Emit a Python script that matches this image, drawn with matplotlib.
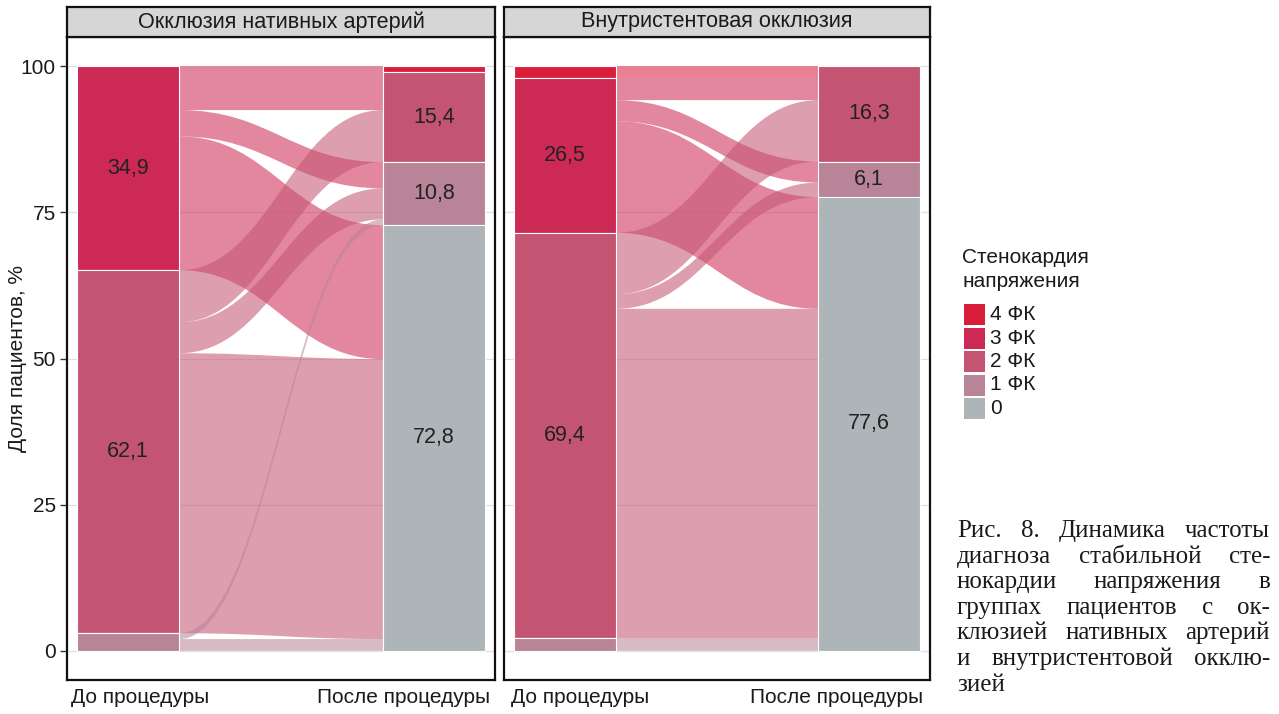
import matplotlib
matplotlib.use("Agg")
import matplotlib.pyplot as plt
from matplotlib.path import Path
from matplotlib.patches import PathPatch, Rectangle

plt.rcParams['font.family'] = ['Liberation Sans', 'DejaVu Sans']

# ---------------- data ----------------
panels = ["Окклюзия нативных артерий", "Внутристентовая окклюзия"]
stages = ["До процедуры", "После процедуры"]
levels = ["4 ФК", "3 ФК", "2 ФК", "1 ФК", "0"]
level_colors = ["#d81e3a", "#cd2955", "#c45572", "#b88498", "#adb5b8"]

# flows: rows = class before procedure, columns = class after procedure (%)
flows_native = [
    [0.0, 0.0, 0.0, 0.0, 0.0],
    [1.0, 0.0, 6.5, 4.5, 22.9],
    [0.0, 0.0, 8.9, 5.3, 47.9],
    [0.0, 0.0, 0.0, 1.0, 2.0],
    [0.0, 0.0, 0.0, 0.0, 0.0],
]
flows_instent = [
    [0.0, 0.0, 2.0, 0.0, 0.0],
    [0.0, 0.0, 3.8, 3.6, 19.1],
    [0.0, 0.0, 10.5, 2.5, 56.4],
    [0.0, 0.0, 0.0, 0.0, 2.1],
    [0.0, 0.0, 0.0, 0.0, 0.0],
]
panel_flows = [flows_native, flows_instent]

legend_title = "Стенокардия\nнапряжения"
y_label = "Доля пациентов, %"
y_ticks = [0, 25, 50, 75, 100]
caption_lines = [
    "Рис. 8. Динамика частоты",
    "диагноза стабильной сте-",
    "нокардии напряжения в",
    "группах пациентов с ок-",
    "клюзией нативных артерий",
    "и внутристентовой окклю-",
    "зией",
]

# ---------------- layout helpers ----------------
W, H = 1279, 714
fig = plt.figure(figsize=(W / 100, H / 100), dpi=100)


def fx(px):
    return px / W


def fy(py):
    return 1 - py / H


STRAT_W = 1 / 3
FLOW_ALPHA = 0.56
FS = 15


def flow_patch(x0, a_top, a_bot, x1, b_top, b_bot, color):
    k = 0.45 * (x1 - x0)
    verts = [
        (x0, a_top),
        (x0 + k, a_top), (x1 - k, b_top), (x1, b_top),
        (x1, b_bot),
        (x1 - k, b_bot), (x0 + k, a_bot), (x0, a_bot),
        (x0, a_top),
    ]
    codes = [Path.MOVETO,
             Path.CURVE4, Path.CURVE4, Path.CURVE4,
             Path.LINETO,
             Path.CURVE4, Path.CURVE4, Path.CURVE4,
             Path.CLOSEPOLY]
    return PathPatch(Path(verts, codes), facecolor=color, edgecolor='none',
                     alpha=FLOW_ALPHA, zorder=2)


panel_px = [(67, 495), (504, 930)]
xlabel_px = [(140, 404), (580, 837)]
top_px, bot_px = 37, 680

for p, (x_left, x_right) in enumerate(panel_px):
    ax = fig.add_axes([fx(x_left), fy(bot_px), (x_right - x_left) / W, (bot_px - top_px) / H])
    ax.set_xlim(0.8, 2.2)
    ax.set_ylim(-5, 105)
    mat = panel_flows[p]
    n = len(levels)
    before = [sum(mat[i]) for i in range(n)]
    after = [sum(mat[i][j] for i in range(n)) for j in range(n)]

    # grid
    for t in y_ticks:
        ax.axhline(t, color='#e0e0e0', lw=0.9, zorder=0)

    def tops(vals):
        res, cur = [], 100.0
        for v in vals:
            res.append(cur)
            cur -= v
        return res
    btop = tops(before)
    atop = tops(after)

    # flows
    bcur = list(btop)
    acur = list(atop)
    segs = {}
    for i in range(n):
        for j in range(n):
            v = mat[i][j]
            if v > 0:
                segs[(i, j)] = [bcur[i], bcur[i] - v]
                bcur[i] -= v
    for j in range(n):
        for i in range(n):
            v = mat[i][j]
            if v > 0:
                segs[(i, j)] += [acur[j], acur[j] - v]
                acur[j] -= v
    x0 = 1 + STRAT_W / 2
    x1 = 2 - STRAT_W / 2
    for (i, j), (at, ab, bt, bb) in segs.items():
        ax.add_patch(flow_patch(x0, at, ab, x1, bt, bb, level_colors[i]))

    # strata
    for xc, vals, tps in [(1, before, btop), (2, after, atop)]:
        for k in range(n):
            v = vals[k]
            if v <= 0:
                continue
            ax.add_patch(Rectangle((xc - STRAT_W / 2, tps[k] - v), STRAT_W, v,
                                   facecolor=level_colors[k], edgecolor='white',
                                   lw=0.8, zorder=3))
            if v >= 5:
                ax.text(xc, tps[k] - v / 2, f"{v:.1f}".replace('.', ','),
                        ha='center', va='center', fontsize=15.5, color='#222222', zorder=4)

    ax.set_xticks([])
    if p == 0:
        ax.set_yticks(y_ticks)
        ax.set_yticklabels([str(t) for t in y_ticks], fontsize=FS, color='#1a1a1a')
        ax.tick_params(axis='y', length=5, width=1, color='#333333', pad=3)
    else:
        ax.set_yticks([])
    for s in ax.spines.values():
        s.set_linewidth(1.6)
        s.set_color('#111111')

    # strip
    sax = fig.add_axes([fx(x_left), fy(top_px), (x_right - x_left) / W, 30 / H])
    sax.set_facecolor('#d6d6d6')
    sax.set_xticks([])
    sax.set_yticks([])
    for s in sax.spines.values():
        s.set_linewidth(1.6)
        s.set_color('#111111')
    sax.text(0.5, 0.5, panels[p], ha='center', va='center', fontsize=15.6,
             color='#1a1a1a', transform=sax.transAxes)

    # stage labels
    for lab, px in zip(stages, xlabel_px[p]):
        fig.text(fx(px), fy(703), lab, ha='center', va='baseline', fontsize=FS, color='#1a1a1a')

# y label
fig.text(fx(18), fy(358), y_label, rotation=90, ha='center', va='center',
         fontsize=FS, color='#1a1a1a')

# legend
fig.text(fx(962), fy(257), legend_title.split("\n")[0], ha='left', va='center',
         fontsize=FS, color='#1a1a1a')
fig.text(fx(962), fy(282), legend_title.split("\n")[1], ha='left', va='center',
         fontsize=FS, color='#1a1a1a')
for k, (lab, col) in enumerate(zip(levels, level_colors)):
    ytop = 304 + k * 23.5
    fig.patches.append(Rectangle((fx(964), fy(ytop + 21)), 21 / W, 21 / H,
                                 transform=fig.transFigure, facecolor=col,
                                 edgecolor='none'))
    fig.text(fx(990), fy(ytop + 10.5), lab, ha='left', va='center', fontsize=FS,
             color='#1a1a1a')

# caption (justified)
cap_left, cap_right = 957, 1270
renderer = fig.canvas.get_renderer()
probe = fig.text(0, 0, caption_lines[4], fontsize=16, family='Liberation Serif')
probe_w = probe.get_window_extent(renderer).width
probe.remove()
cap_size = 0.93 * 16 * (cap_right - cap_left) / probe_w
cap_font = dict(fontsize=cap_size, family='Liberation Serif', color='#1a1a1a')
for li, line in enumerate(caption_lines):
    base = 537 + li * 25.6
    words = line.split(" ")
    if li == len(caption_lines) - 1 or len(words) == 1:
        fig.text(fx(cap_left), fy(base), line, ha='left', va='baseline', **cap_font)
        continue
    txts = [fig.text(0, fy(base), w, ha='left', va='baseline', **cap_font) for w in words]
    widths = [t.get_window_extent(renderer).width for t in txts]
    gap = (cap_right - cap_left - sum(widths)) / (len(words) - 1)
    x = cap_left
    for t, w in zip(txts, widths):
        t.set_x(fx(x))
        x += w + gap

fig.savefig("out.png", dpi=100)
